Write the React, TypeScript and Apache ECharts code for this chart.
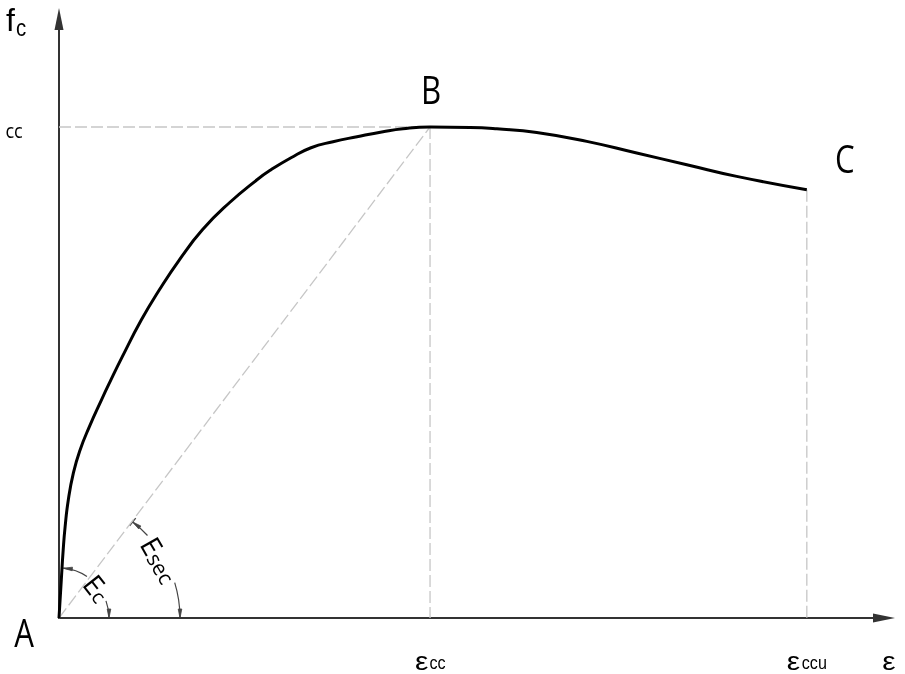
import React, { useEffect, useRef } from "react";
import * as echarts from "echarts";

// stress–strain curve (strain in ‰, stress normalised so f_cc = 40)
const strain = [0, 0.0124, 0.0226, 0.0329, 0.0501, 0.0776, 0.1137, 0.1633, 0.2291, 0.2722, 0.3407, 0.4442, 0.5412, 0.649, 0.773, 0.9186, 1.0674, 1.1429, 1.2507, 1.3585, 1.4771, 1.6065, 1.7466, 1.8544, 2.0, 2.216, 2.36, 2.575, 2.845, 3.114, 3.384, 3.653, 4.031];
const stress = [0, 3.098, 5.543, 7.418, 9.619, 11.82, 13.695, 15.57, 17.771, 19.156, 21.276, 24.292, 26.738, 29.183, 31.629, 33.83, 35.704, 36.519, 37.497, 38.312, 38.802, 39.209, 39.617, 39.862, 40.0, 39.97, 39.86, 39.56, 38.83, 37.88, 36.93, 35.98, 34.89];

// key points A (origin), B (peak), C (ultimate)
const pointLabels = ["A", "B", "C"];
const keyStrain = [0, 2.0, 4.031];
const keyStress = [0, 40.0, 34.89];

// axis extents
const xMax = 4.447;
const yMax = 48.8;

const FONT = "Open Sans";
const FONT2 = "Liberation Sans";
const deg = Math.PI / 180;

function arrowHead(tx: number, ty: number, dx: number, dy: number, L = 9, W = 3.6) {
  const bx = tx - dx * L;
  const by = ty - dy * L;
  const nx = -dy;
  const ny = dx;
  return {
    type: "polygon",
    shape: { points: [[tx, ty], [bx + nx * W / 2, by + ny * W / 2], [bx - nx * W / 2, by - ny * W / 2]] },
    style: { fill: "#444", stroke: "#444", lineWidth: 0.8 },
    silent: true,
  };
}

export default function App() {
  const ref = useRef<HTMLDivElement>(null);
  useEffect(() => {
    const chart = echarts.init(ref.current!, null, { renderer: "svg" });
    const curve = strain.map((x, i) => [x, stress[i]]);
    const dash = { type: [12, 4], color: "#c6c6c6", width: 1.3 };
    const axisCommon = {
      type: "value",
      min: 0,
      axisLine: { show: true, symbol: ["none", "triangle"], symbolSize: [9, 22], lineStyle: { color: "#333", width: 2 } },
      axisTick: { show: false },
      axisLabel: { show: false },
      splitLine: { show: false },
    };
    const B: [number, number] = [keyStrain[1], keyStress[1]];
    const C: [number, number] = [keyStrain[2], keyStress[2]];
    chart.setOption({
      animation: false,
      grid: { left: 59, right: 21, top: 19, bottom: 56 },
      xAxis: { ...axisCommon, max: xMax },
      yAxis: { ...axisCommon, max: yMax },
      series: [
        { type: "line", data: [[0, B[1]], B], symbol: "none", lineStyle: dash, z: 1, silent: true },
        { type: "line", data: [B, [B[0], 0]], symbol: "none", lineStyle: dash, z: 1, silent: true },
        { type: "line", data: [C, [C[0], 0]], symbol: "none", lineStyle: dash, z: 1, silent: true },
        { type: "line", data: [[keyStrain[0], keyStress[0]], B], symbol: "none", lineStyle: dash, z: 1, silent: true },
        { type: "line", data: curve, smooth: 0.5, symbol: "none", lineStyle: { color: "#000", width: 3 }, z: 3, silent: true },
      ],
    });

    const o = chart.convertToPixel({ gridIndex: 0 }, [0, 0]) as number[];
    const pB = chart.convertToPixel({ gridIndex: 0 }, B) as number[];
    const pC = chart.convertToPixel({ gridIndex: 0 }, C) as number[];
    const pEnd = chart.convertToPixel({ gridIndex: 0 }, [xMax, 0]) as number[];

    const arcStyle = { stroke: "#444", lineWidth: 1.2, fill: "none" };
    const arc = (r: number, a0: number, a1: number) => ({
      type: "arc",
      shape: { cx: o[0], cy: o[1], r, startAngle: -a1 * deg, endAngle: -a0 * deg, clockwise: true },
      style: arcStyle,
      silent: true,
    });
    const rEc = 50;
    const rSec = 121;
    const tipUp = (r: number, a: number) => {
      const t = a * deg;
      return arrowHead(o[0] + r * Math.cos(t), o[1] - r * Math.sin(t), -Math.sin(t), -Math.cos(t));
    };
    const tipDown = (r: number) => arrowHead(o[0] + r, o[1], 0, 1);
    const text = (x: number, y: number, s: string, size: number, extra: any = {}, font = FONT) => ({
      type: "text",
      x,
      y,
      ...extra,
      style: { text: s, fill: "#000", fontSize: size, fontFamily: font, textAlign: "center", textVerticalAlign: "middle" },
      silent: true,
    });
    const rich = (x: number, y: number, s: string, r: any, rotation: number) => ({
      type: "text",
      x,
      y,
      rotation,
      style: { text: s, rich: r, fill: "#000", fontFamily: FONT, textAlign: "center", textVerticalAlign: "middle" },
      silent: true,
    });

    const labelPos = [
      [o[0] - 35, o[1] + 14],
      [pB[0] + 1, pB[1] - 38],
      [pC[0] + 38, pC[1] - 32],
    ];

    const ecMid = 38 * deg;
    const secMid = 30 * deg;
    const tSec = 52.5 * deg;
    const yEps = o[1] + 43;
    const ySub = o[1] + 45;

    chart.setOption({
      graphic: [
        ...pointLabels.map((l, i) => text(labelPos[i][0], labelPos[i][1], l, 39, { scaleX: 0.8 })),
        // y-axis title f_c and the f_cc level label
        text(10.5, 20, "f", 32, {}, FONT2),
        text(21, 28, "c", 24, { scaleX: 0.85 }, FONT2),
        text(14, pB[1] + 4, "cc", 20, { scaleX: 0.9 }),
        // strain labels
        text(pB[0] - 8.5, yEps, "ε", 26, { scaleX: 1.15 }, FONT2),
        text(pB[0] + 7.5, ySub, "cc", 19, { scaleX: 0.85 }, FONT2),
        text(pC[0] - 13.5, yEps, "ε", 26, { scaleX: 1.15 }, FONT2),
        text(pC[0] + 7.5, ySub, "ccu", 19, { scaleX: 0.85 }, FONT2),
        text(pEnd[0] + 5, yEps, "ε", 26, { scaleX: 1.15 }, FONT2),
        // Ec dimension arc
        arc(rEc, 0, 20),
        arc(rEc, 56, 85),
        tipUp(rEc, 85),
        tipDown(rEc),
        rich(o[0] + (rEc - 1) * Math.cos(ecMid), o[1] - (rEc - 1) * Math.sin(ecMid), "{e|E}{s|c}",
          { e: { fontSize: 28, fontFamily: FONT }, s: { fontSize: 20, fontFamily: FONT, padding: [8, 0, 0, 0] } },
          -52 * deg),
        // Esec dimension arc
        arc(rSec, 0, 17),
        arc(rSec, 43, 52.5),
        tipUp(rSec, 52.5),
        tipDown(rSec),
        {
          type: "line",
          shape: {
            x1: o[0] + (rSec - 5) * Math.cos(tSec), y1: o[1] - (rSec - 5) * Math.sin(tSec),
            x2: o[0] + (rSec + 5) * Math.cos(tSec), y2: o[1] - (rSec + 5) * Math.sin(tSec),
          },
          style: { stroke: "#444", lineWidth: 1.3 },
          silent: true,
        },
        rich(o[0] + (rSec - 4) * Math.cos(secMid), o[1] - (rSec - 4) * Math.sin(secMid), "{e|E}{s|sec}",
          { e: { fontSize: 28, fontFamily: FONT }, s: { fontSize: 21, fontFamily: FONT, padding: [8, 0, 0, 0] } },
          -60 * deg),
      ],
    });

    return () => chart.dispose();
  }, []);
  return <div ref={ref} style={{ position: "fixed", left: 0, top: 0, width: 905, height: 674 }} />;
}
